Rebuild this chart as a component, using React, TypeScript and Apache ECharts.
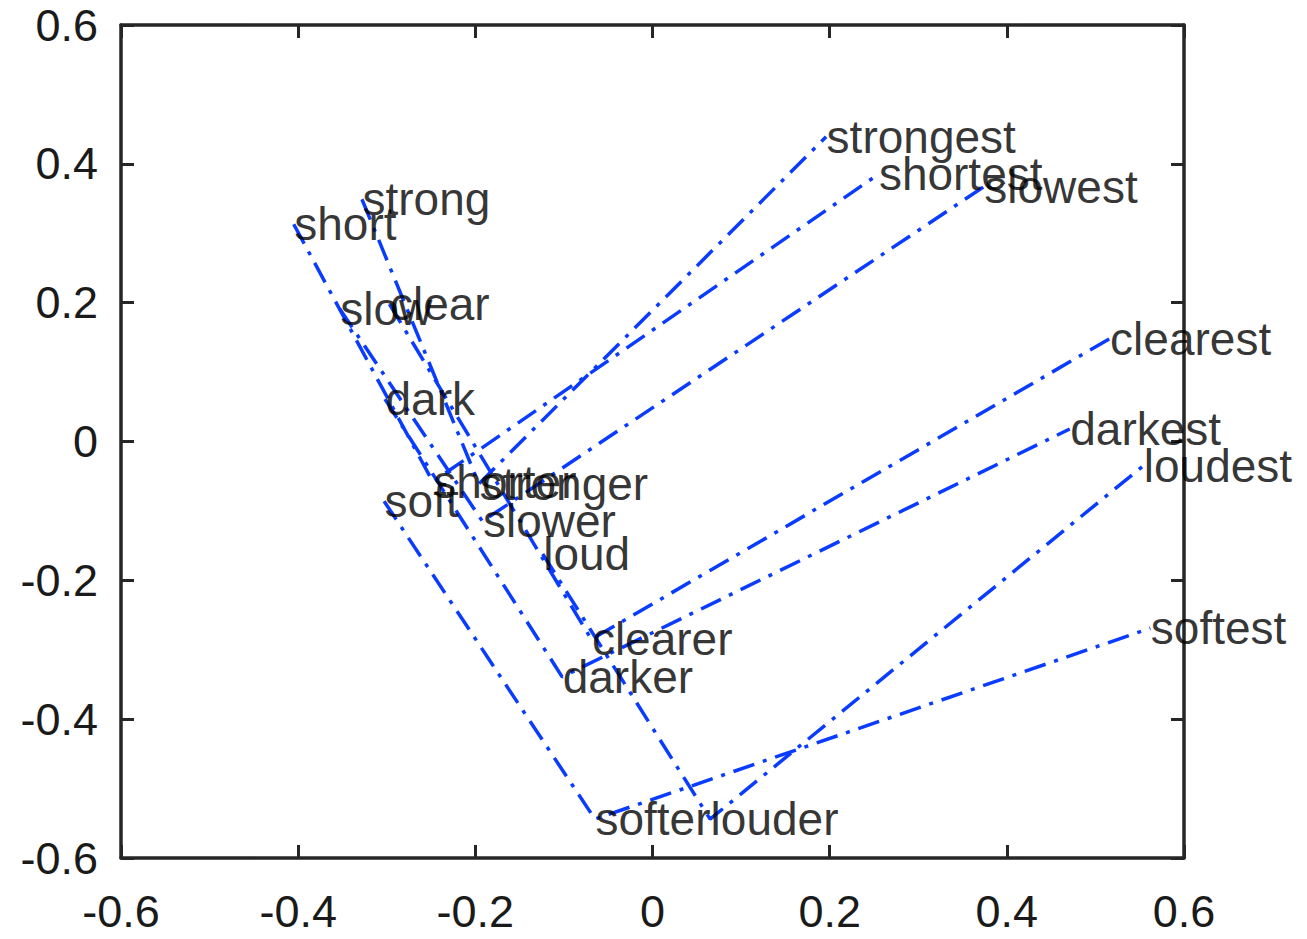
import React, { useEffect, useRef } from "react";
import * as echarts from "echarts";

// Word triples: base -> comparative -> superlative
const baseWords = ["strong", "short", "slow", "clear", "dark", "loud", "soft"];
const baseX = [-0.328, -0.405, -0.353, -0.297, -0.302, -0.124, -0.303];
const baseY = [0.349, 0.313, 0.191, 0.198, 0.061, -0.162, -0.086];

const comparativeWords = ["stronger", "shorter", "slower", "clearer", "darker", "louder", "softer"];
const comparativeX = [-0.196, -0.248, -0.192, -0.069, -0.102, 0.065, -0.065];
const comparativeY = [-0.061, -0.058, -0.115, -0.285, -0.339, -0.544, -0.544];

const superlativeWords = ["strongest", "shortest", "slowest", "clearest", "darkest", "loudest", "softest"];
const superlativeX = [0.196, 0.255, 0.374, 0.516, 0.471, 0.554, 0.562];
const superlativeY = [0.439, 0.385, 0.367, 0.148, 0.018, -0.035, -0.269];

const xTicks = [-0.6, -0.4, -0.2, 0, 0.2, 0.4, 0.6];
const yTicks = [-0.6, -0.4, -0.2, 0, 0.2, 0.4, 0.6];

const FONT = "'Liberation Sans', Arial, Helvetica, sans-serif";
const AXIS_COLOR = "#262626";
const LINE_COLOR = "#0a3cff";

export default function App() {
  const ref = useRef<HTMLDivElement>(null);

  useEffect(() => {
    if (!ref.current) return;
    const chart = echarts.init(ref.current, undefined, { renderer: "svg" });

    const lineSeries = baseWords.map((w, i) => ({
      type: "line",
      name: w,
      data: [
        [baseX[i], baseY[i]],
        [comparativeX[i], comparativeY[i]],
        [superlativeX[i], superlativeY[i]],
      ],
      symbol: "none",
      showSymbol: false,
      silent: true,
      z: 3,
      lineStyle: {
        color: LINE_COLOR,
        width: 3.5,
        type: [22, 9, 4, 9],
        cap: "butt",
      },
    }));

    const labelData: any[] = [];
    baseWords.forEach((w, i) => labelData.push({ name: w, value: [baseX[i], baseY[i]] }));
    comparativeWords.forEach((w, i) =>
      labelData.push({ name: w, value: [comparativeX[i], comparativeY[i]] })
    );
    superlativeWords.forEach((w, i) =>
      labelData.push({ name: w, value: [superlativeX[i], superlativeY[i]] })
    );

    const axisCommon = {
      type: "value",
      min: xTicks[0],
      max: xTicks[xTicks.length - 1],
      interval: 0.2,
      splitLine: { show: false },
      axisLine: { show: true, onZero: false, lineStyle: { color: AXIS_COLOR, width: 3.5 } },
      axisTick: { show: true, inside: true, length: 13, lineStyle: { color: AXIS_COLOR, width: 3 } },
    };

    const fmt = (v: number) => {
      const r = Math.round(v * 10) / 10;
      return r === 0 ? "0" : String(r);
    };

    chart.setOption({
      animation: false,
      backgroundColor: "#ffffff",
      grid: { left: 121, top: 25, width: 1063, height: 833, containLabel: false },
      xAxis: [
        {
          ...axisCommon,
          position: "bottom",
          axisLabel: {
            show: true,
            margin: 31,
            color: "#1a1a1a",
            fontSize: 45,
            fontFamily: FONT,
            formatter: fmt,
          },
        },
        {
          ...axisCommon,
          position: "top",
          axisLabel: { show: false },
        },
      ],
      yAxis: [
        {
          ...axisCommon,
          min: yTicks[0],
          max: yTicks[yTicks.length - 1],
          position: "left",
          axisLabel: {
            show: true,
            margin: 23,
            color: "#1a1a1a",
            fontSize: 45,
            fontFamily: FONT,
            formatter: fmt,
          },
        },
        {
          ...axisCommon,
          min: yTicks[0],
          max: yTicks[yTicks.length - 1],
          position: "right",
          axisLabel: { show: false },
        },
      ],
      series: [
        ...lineSeries,
        {
          type: "scatter",
          data: labelData,
          symbol: "circle",
          symbolSize: 1,
          itemStyle: { color: "rgba(0,0,0,0)" },
          silent: true,
          z: 4,
          label: {
            show: true,
            position: "right",
            distance: 0,
            offset: [0, 3],
            formatter: "{b}",
            color: "#000000",
            fontSize: 46,
            fontFamily: FONT,
          },
          labelLayout: { hideOverlap: false },
        },
      ],
    });

    return () => chart.dispose();
  }, []);

  return (
    <div
      ref={ref}
      style={{ position: "fixed", left: 0, top: 0, width: 1307, height: 939 }}
    />
  );
}
